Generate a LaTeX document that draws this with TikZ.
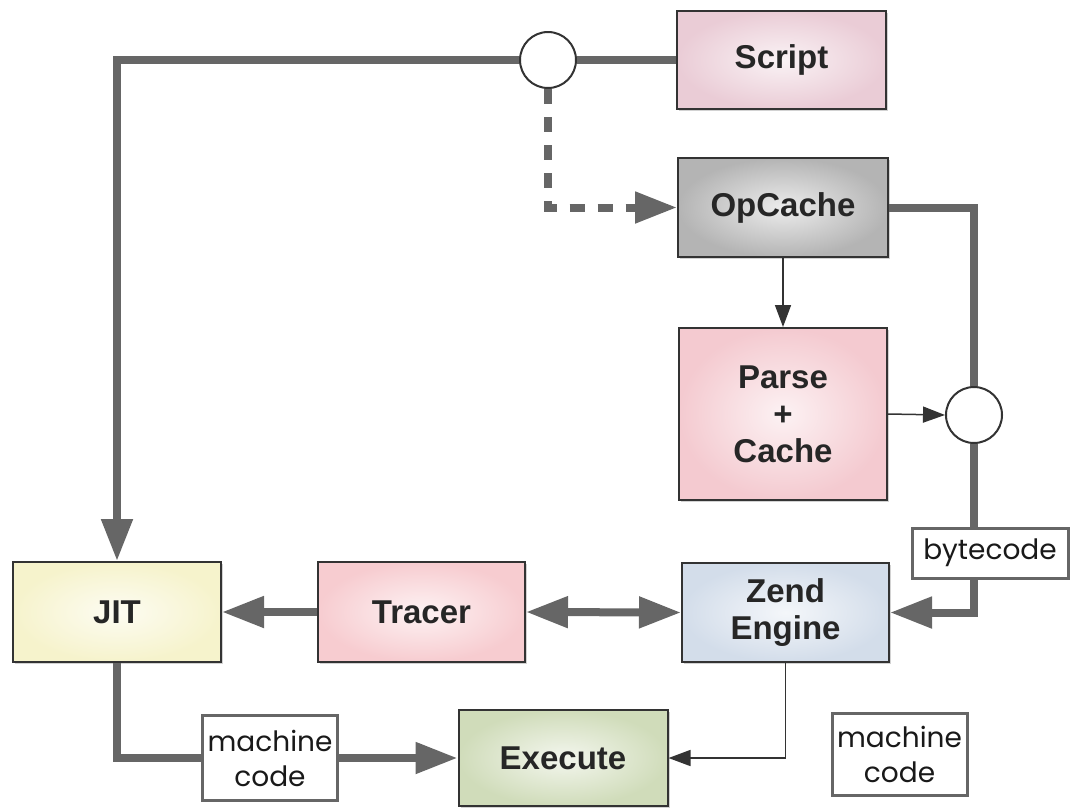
\documentclass[tikz,border=0pt]{standalone}
\usepackage{fontspec}
\setmainfont{Liberation Sans}
\newfontfamily\handfont{Poppins}
\usetikzlibrary{arrows.meta,shadows}
\definecolor{linegray}{HTML}{666666}
\definecolor{boxedge}{HTML}{333333}
\definecolor{scriptpink}{HTML}{EACCD6}
\definecolor{opgray}{HTML}{B4B4B4}
\definecolor{parsepink}{HTML}{F4CAD0}
\definecolor{jityellow}{HTML}{F6F3CC}
\definecolor{tracerpink}{HTML}{F7CCD0}
\definecolor{zendblue}{HTML}{D3DDEA}
\definecolor{execgreen}{HTML}{D0DCBA}
\begin{document}
\begin{tikzpicture}[x=1pt,y=-1pt,
  box/.style={draw=boxedge, line width=2pt, inner sep=0pt, align=center,
    font=\bfseries\fontsize{33}{37}\selectfont, text=black!85,
    shading=radial,
    drop shadow={shadow xshift=2pt, shadow yshift=-2pt, fill=black!35}},
  tag/.style={draw=linegray, line width=3pt, fill=white, inner sep=0pt, align=center,
    font=\handfont\fontsize{28}{35}\selectfont, text=black!90},
  junction/.style={circle, draw=boxedge, line width=2pt, fill=white, minimum size=56pt, inner sep=0pt},
  thickline/.style={draw=linegray, line width=8pt},
  bigarrow/.style={thickline, -{Triangle[length=42pt,width=30pt]}},
  bigboth/.style={thickline, {Triangle[length=42pt,width=30pt]}-{Triangle[length=42pt,width=30pt]}},
  thinarrow/.style={draw=boxedge, line width=1.5pt, -{Triangle[length=22pt,width=16pt]}}
]
\useasboundingbox (0,0) rectangle (1076,807);

% boxes
\node[box, inner color=scriptpink!25!white, outer color=scriptpink, minimum width=209pt, minimum height=98pt] (script) at (781.5,60) {Script};
\node[box, inner color=opgray!25!white, outer color=opgray, minimum width=210pt, minimum height=99pt] (opcache) at (783,207.5) {OpCache};
\node[box, inner color=parsepink!25!white, outer color=parsepink, minimum width=208pt, minimum height=172pt] (parse) at (783,414) {Parse\\+\\Cache};
\node[box, inner color=jityellow!25!white, outer color=jityellow, minimum width=208pt, minimum height=100pt] (jit) at (117,612) {JIT};
\node[box, inner color=tracerpink!25!white, outer color=tracerpink, minimum width=207pt, minimum height=100pt] (tracer) at (421.5,612) {Tracer};
\node[box, inner color=zendblue!25!white, outer color=zendblue, minimum width=207pt, minimum height=99pt] (zend) at (785.5,612.5) {Zend\\Engine};
\node[box, inner color=execgreen!25!white, outer color=execgreen, minimum width=209pt, minimum height=96pt] (execute) at (563,758) {Execute};

% tags
\node[tag, minimum width=135pt, minimum height=85pt] (mc1) at (270,758) {machine\\code};
\node[tag, minimum width=135pt, minimum height=82pt] (mc2) at (899.5,754) {machine\\code};
\node[tag, minimum width=156pt, minimum height=50pt] (bytecode) at (990,553) {bytecode};

% junctions
\node[junction] (c1) at (548,60) {};
\node[junction] (c2) at (974,415) {};

% connectors
\draw[bigarrow] (c1.west) -| (jit.north);
\draw[thickline] (script.west) -- (c1.east);
\draw[bigarrow, dash pattern=on 15pt off 13pt] (c1.south) |- (opcache.west);
\draw[thickline] (opcache.east) -| (c2.north);
\draw[thickline] (c2.south) -- (c2.south |- bytecode.north);
\draw[bigarrow] (c2.south |- bytecode.south) |- (zend.east);
\draw[thinarrow] (opcache.south) -- (parse.north);
\draw[thinarrow] (parse.east) -- (c2.west);
\draw[bigarrow] (tracer.west) -- (jit.east);
\draw[bigboth] (tracer.east) -- (zend.west);
\draw[thickline] (jit.south) |- (mc1.west);
\draw[bigarrow] (mc1.east) -- (execute.west);
\draw[thinarrow] (zend.south) |- (execute.east);
\end{tikzpicture}
\end{document}
